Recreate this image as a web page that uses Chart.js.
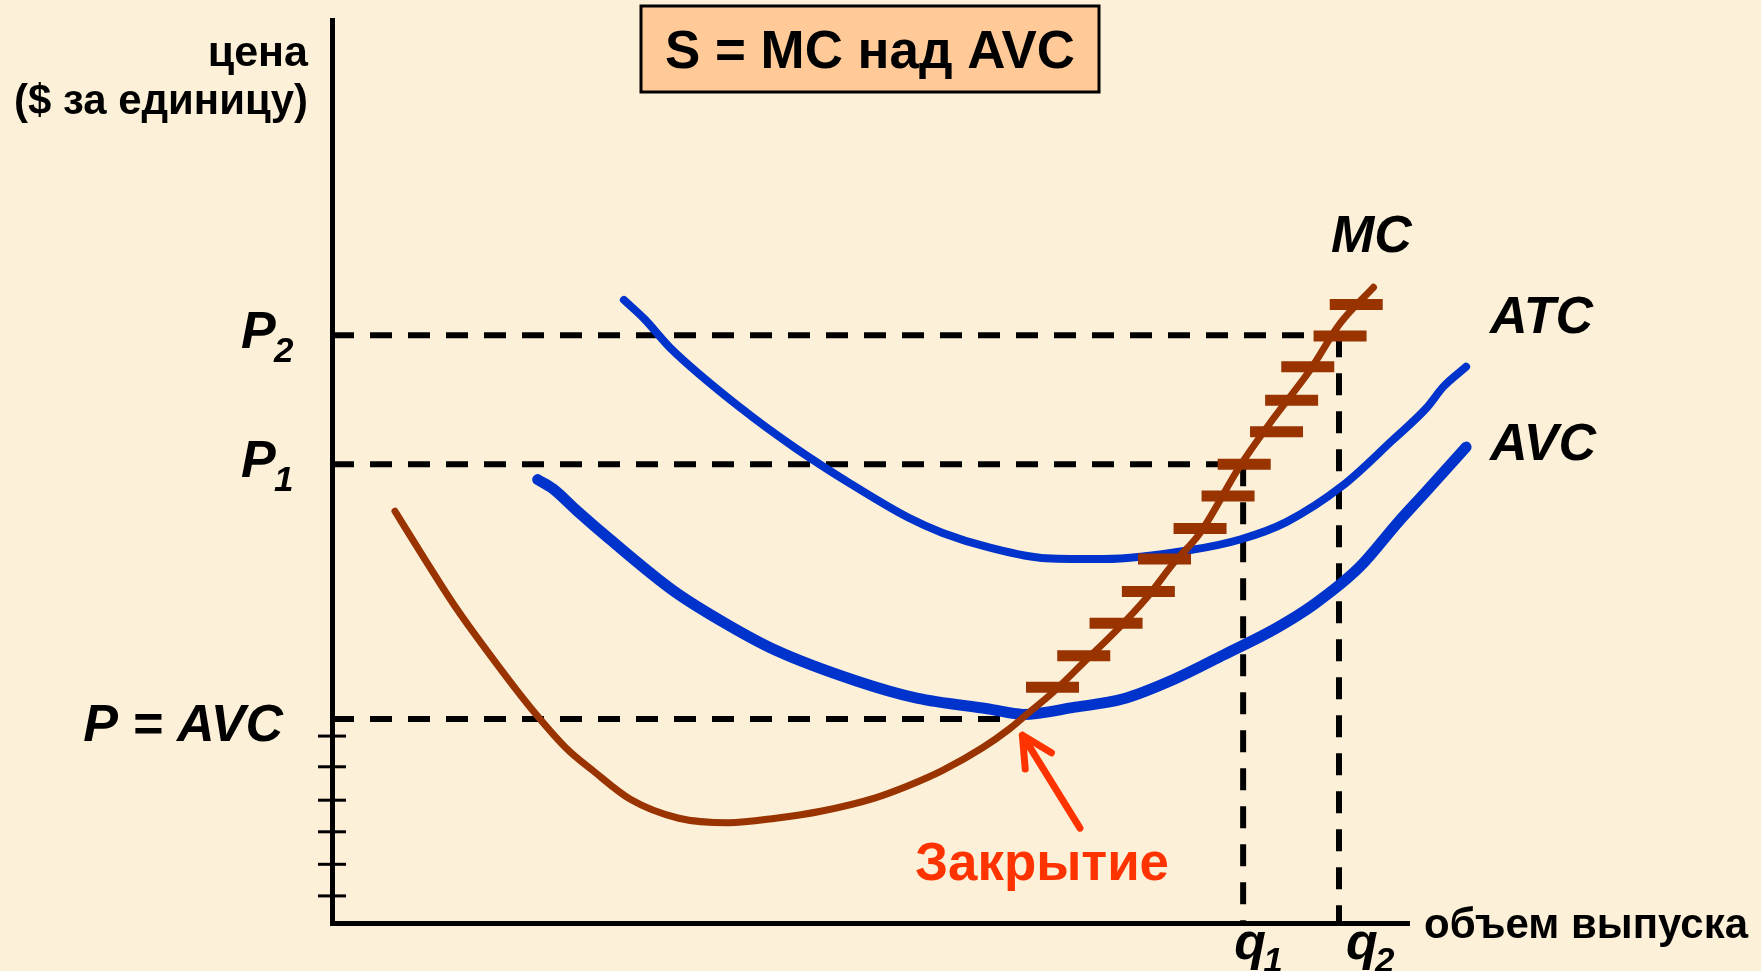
<!DOCTYPE html>
<html lang="ru">
<head>
<meta charset="utf-8">
<title>S = MC над AVC</title>
<script src="https://cdn.jsdelivr.net/npm/chart.js@4/dist/chart.umd.min.js"></script>
<style>
  html, body { margin: 0; padding: 0; background: #fcf0d8; }
  #wrap { width: 1761px; height: 971px; }
</style>
</head>
<body>
<div id="wrap"><canvas id="chart" width="1761" height="971"></canvas></div>
<script>
// --- données lues sur le schéma (unités arbitraires, axes 0..100) ---
// niveaux de prix et de quantité
const P2 = 65.1, P1 = 50.8, P_AVC = 22.6;
const Q1 = 84.6, Q2 = 93.5;

// coût marginal MC
const mcQ = [5.85, 8.45, 11.4, 15.1, 18.4, 21.8, 24.2, 27.7, 32.2, 36.8, 41.2, 45.5, 50.3, 53.5, 56.7,
             60.4, 62.9, 64.7, 66.9, 70.0, 73.0, 75.7, 78.1, 80.6, 84.3, 87.3, 90.8, 93.6, 96.7];
const mcP = [45.6, 40.6, 35.1, 29.0, 23.9, 19.3, 16.9, 13.7, 11.6, 11.1, 11.6, 12.4, 13.8, 15.2, 16.9,
             19.4, 21.5, 23.3, 25.5, 29.1, 32.6, 36.1, 39.8, 43.2, 50.6, 55.7, 61.2, 66.4, 70.4];

// coût total moyen ATC
const atcQ = [27.1, 29.0, 31.4, 38.1, 42.9, 48.2, 53.5, 56.7, 61.0, 66.3, 71.7, 79.7, 84.4, 88.6, 93.8,
              98.5, 101.6, 103.2, 105.3];
const atcP = [69.0, 66.9, 63.7, 56.9, 52.7, 48.6, 44.9, 43.2, 41.6, 40.4, 40.3, 41.3, 42.5, 44.4, 48.4,
              53.5, 57.0, 59.4, 61.6];

// coût variable moyen AVC
const avcQ = [19.1, 20.5, 22.7, 25.8, 31.7, 36.5, 41.2, 48.7, 54.3, 61.0, 64.2, 69.0, 73.4, 78.2, 82.8,
              87.6, 91.2, 95.4, 99.0, 101.6, 105.3];
const avcP = [49.1, 48.1, 45.7, 42.5, 36.8, 33.2, 30.2, 26.8, 24.9, 23.7, 23.1, 23.9, 24.8, 27.0, 29.7,
              32.6, 35.3, 39.4, 44.4, 47.8, 52.7];

// traits de l'offre S sur MC (au-dessus de AVC)
const supplyQ = [95.1, 93.6, 90.6, 89.1, 87.7, 84.7, 83.2, 80.6, 77.3, 75.8, 72.8, 69.8, 66.9];
const supplyP = [68.5, 65.0, 61.6, 57.9, 54.4, 50.8, 47.3, 43.7, 40.3, 36.7, 33.2, 29.6, 26.1];

// graduations sur l'axe des prix
const yTicks = [3.0, 6.5, 10.1, 13.6, 17.3, 20.7];

// flèche "Закрытие" : queue -> pointe
const arrowFrom = { x: 69.45, y: 10.5 };
const arrowTo = { x: 64.1, y: 20.8 };

const BLUE = "#0033cc";
const BROWN = "#993300";
const RED = "#ff3300";
const FONT = '"Liberation Sans", Arial, sans-serif';

function pts(xs, ys) {
  return xs.map((x, i) => ({ x: x, y: ys[i] }));
}

function curve(data, color, width, order) {
  return {
    data: data, showLine: true, borderColor: color, borderWidth: width,
    pointRadius: 0, cubicInterpolationMode: "monotone",
    borderCapStyle: "round", borderJoinStyle: "round",
    clip: false, order: order
  };
}

function dashed(data) {
  return {
    data: data, showLine: true, borderColor: "#000", borderWidth: 6,
    borderDash: [22, 16], pointRadius: 0, tension: 0, clip: false, order: 10
  };
}

// --- textes, graduations et flèche ---
const annotations = {
  id: "annotations",
  beforeDatasetsDraw(chart) {
    const ctx = chart.ctx;
    const xs = chart.scales.x, ys = chart.scales.y;
    const x0 = xs.getPixelForValue(0);
    ctx.save();
    ctx.strokeStyle = "#000";
    ctx.lineWidth = 3;
    yTicks.forEach(v => {
      const y = ys.getPixelForValue(v);
      ctx.beginPath();
      ctx.moveTo(x0 - 14, y);
      ctx.lineTo(x0 + 14, y);
      ctx.stroke();
    });
    ctx.restore();
  },
  afterDraw(chart) {
    const ctx = chart.ctx;
    const xs = chart.scales.x, ys = chart.scales.y;
    ctx.save();
    ctx.textBaseline = "alphabetic";

    // titre encadré
    ctx.fillStyle = "#ffca98";
    ctx.fillRect(641, 6, 458, 86);
    ctx.strokeStyle = "#000";
    ctx.lineWidth = 3;
    ctx.strokeRect(641, 6, 458, 86);
    ctx.fillStyle = "#000";
    ctx.font = "bold 53px " + FONT;
    ctx.textAlign = "center";
    ctx.fillText("S = MC над AVC", 870, 68, 410);

    // titre de l'axe des prix
    ctx.textAlign = "right";
    ctx.font = "bold 43px " + FONT;
    ctx.fillText("цена", 308, 66);
    ctx.fillText("($ за единицу)", 308, 114, 294);

    // titre de l'axe des quantités
    ctx.textAlign = "left";
    ctx.fillText("объем выпуска", 1424, 938, 324);

    // niveaux de prix
    const big = "italic bold 52px " + FONT;
    const sub = "italic bold 35px " + FONT;
    [[P2, "2"], [P1, "1"]].forEach(([v, s]) => {
      const y = ys.getPixelForValue(v);
      ctx.font = big;
      ctx.fillText("P", 241, y + 13);
      ctx.font = sub;
      ctx.fillText(s, 274, y + 27);
    });
    ctx.font = big;
    ctx.textAlign = "right";
    ctx.fillText("P = AVC", 283, ys.getPixelForValue(P_AVC) + 22);

    // quantités
    ctx.textAlign = "left";
    [[Q1, "1", -9], [Q2, "2", 7]].forEach(([v, s, dx]) => {
      const x = xs.getPixelForValue(v) + dx;
      ctx.font = big;
      ctx.fillText("q", x, 959);
      ctx.font = sub;
      ctx.fillText(s, x + 29, 972);
    });

    // noms des courbes
    ctx.font = big;
    ctx.fillText("MC", 1331, 252);
    ctx.fillText("ATC", 1490, 333);
    ctx.fillText("AVC", 1490, 460);

    // fermeture
    ctx.fillStyle = RED;
    ctx.font = "bold 53px " + FONT;
    ctx.fillText("Закрытие", 915, 880, 254);

    const ax = xs.getPixelForValue(arrowFrom.x), ay = ys.getPixelForValue(arrowFrom.y);
    const bx = xs.getPixelForValue(arrowTo.x), by = ys.getPixelForValue(arrowTo.y);
    const ang = Math.atan2(ay - by, ax - bx);
    const head = 34, spread = 0.47;
    ctx.strokeStyle = RED;
    ctx.lineWidth = 7;
    ctx.lineCap = "round";
    ctx.lineJoin = "round";
    ctx.beginPath();
    ctx.moveTo(ax, ay);
    ctx.lineTo(bx, by);
    ctx.moveTo(bx + head * Math.cos(ang - spread), by + head * Math.sin(ang - spread));
    ctx.lineTo(bx, by);
    ctx.lineTo(bx + head * Math.cos(ang + spread), by + head * Math.sin(ang + spread));
    ctx.stroke();
    ctx.restore();
  }
};

// bornes 0..100 posées après le calcul des données :
// les courbes dépassent la fin de l'axe des quantités comme sur l'original
function fixRange(scale) {
  scale.min = 0;
  scale.max = 100;
}

const axisStyle = {
  display: true,
  bounds: "data",
  afterDataLimits: fixRange,
  border: { display: true, color: "#000", width: 5 },
  grid: { display: false, drawTicks: false },
  ticks: { display: false }
};

new Chart(document.getElementById("chart"), {
  type: "scatter",
  data: {
    datasets: [
      {
        data: pts(supplyQ, supplyP), showLine: false, pointStyle: "line",
        pointRadius: 26.5, pointBorderWidth: 11, pointBorderColor: BROWN,
        pointBackgroundColor: BROWN, pointHoverRadius: 26.5, clip: false, order: 0
      },
      curve(pts(mcQ, mcP), BROWN, 7, 1),
      curve(pts(atcQ, atcP), BLUE, 8, 2),
      curve(pts(avcQ, avcP), BLUE, 11, 3),
      dashed([{ x: 0, y: P2 }, { x: Q2 + 0.5, y: P2 }]),
      dashed([{ x: 0, y: P1 }, { x: Q1 + 0.6, y: P1 }]),
      dashed([{ x: 0, y: P_AVC }, { x: 63.5, y: P_AVC }]),
      dashed([{ x: Q1, y: P1 }, { x: Q1, y: 0 }]),
      dashed([{ x: Q2, y: P2 }, { x: Q2, y: 0 }])
    ]
  },
  options: {
    responsive: false,
    animation: false,
    devicePixelRatio: 1,
    layout: { autoPadding: false, padding: { left: 332, right: 352, top: 20, bottom: 48 } },
    plugins: { legend: { display: false }, tooltip: { enabled: false } },
    scales: {
      x: Object.assign({ type: "linear", position: "bottom" }, axisStyle),
      y: Object.assign({ type: "linear", position: "left" }, axisStyle)
    }
  },
  plugins: [annotations]
});
</script>
</body>
</html>
